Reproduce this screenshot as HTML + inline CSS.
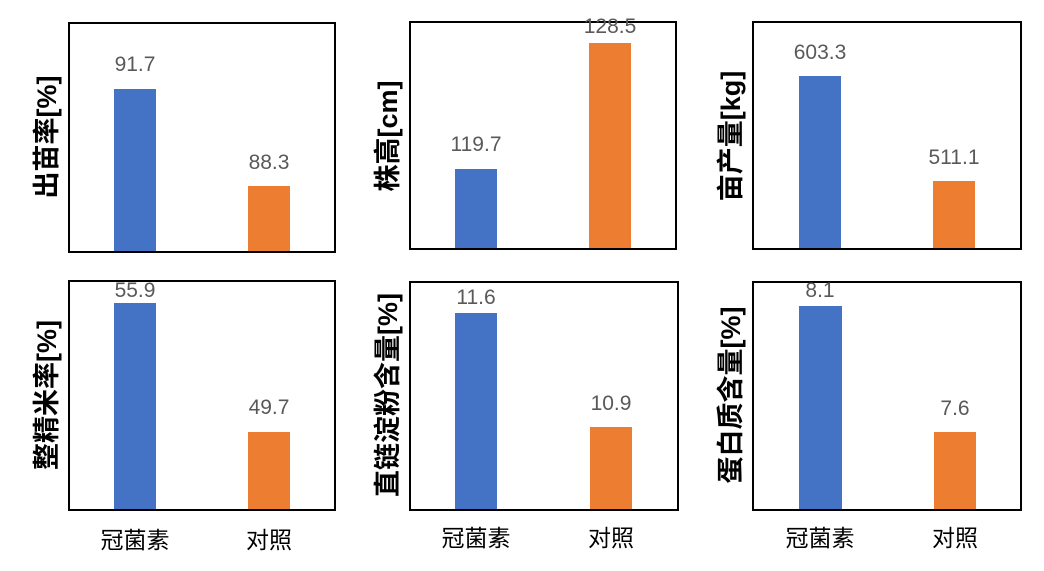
<!DOCTYPE html>
<html><head><meta charset="utf-8"><style>
body{margin:0;background:#fff}
svg{display:block}
.v{font-family:"Liberation Sans","Noto Sans CJK SC",sans-serif;font-size:21px;fill:#595959;text-anchor:middle}
.t{font-family:"Liberation Sans","Noto Sans CJK SC",sans-serif;font-size:27px;font-weight:bold;fill:#000;text-anchor:middle}
.c{font-family:"Liberation Sans","Noto Sans CJK SC",sans-serif;font-size:23px;fill:#000;text-anchor:middle}
rect.b{fill:none;stroke:#000;stroke-width:2}
</style></head><body>
<svg width="1044" height="571" viewBox="0 0 1044 571">
<rect x="114" y="89" width="42" height="163" fill="#4472C4"/>
<rect x="248" y="186" width="42" height="66" fill="#ED7D31"/>
<rect class="b" x="69" y="23" width="266" height="229"/>
<text class="v" x="135" y="71">91.7</text>
<text class="v" x="269" y="169">88.3</text>
<text class="t" transform="translate(56,137) rotate(-90)">出苗率[%]</text>
<rect x="455" y="169" width="42" height="80" fill="#4472C4"/>
<rect x="589" y="43" width="42" height="206" fill="#ED7D31"/>
<rect class="b" x="410" y="22" width="266" height="227"/>
<text class="v" x="476" y="151">119.7</text>
<text class="v" x="610" y="33">128.5</text>
<text class="t" transform="translate(397,136) rotate(-90)">株高[cm]</text>
<rect x="799" y="76" width="42" height="173" fill="#4472C4"/>
<rect x="933" y="181" width="42" height="68" fill="#ED7D31"/>
<rect class="b" x="753" y="22" width="268" height="227"/>
<text class="v" x="820" y="59">603.3</text>
<text class="v" x="954" y="164">511.1</text>
<text class="t" transform="translate(740,136) rotate(-90)">亩产量[kg]</text>
<rect x="114" y="303" width="42" height="207" fill="#4472C4"/>
<rect x="248" y="432" width="42" height="78" fill="#ED7D31"/>
<rect class="b" x="69" y="281" width="266" height="229"/>
<text class="v" x="135" y="297">55.9</text>
<text class="v" x="269" y="414">49.7</text>
<text class="t" transform="translate(56,395) rotate(-90)">整精米率[%]</text>
<rect x="455" y="313" width="42" height="197" fill="#4472C4"/>
<rect x="590" y="427" width="42" height="83" fill="#ED7D31"/>
<rect class="b" x="410" y="282" width="268" height="228"/>
<text class="v" x="476" y="304">11.6</text>
<text class="v" x="611" y="410">10.9</text>
<text class="t" transform="translate(397,395) rotate(-90)">直链淀粉含量[%]</text>
<rect x="799" y="306" width="43" height="204" fill="#4472C4"/>
<rect x="934" y="432" width="42" height="78" fill="#ED7D31"/>
<rect class="b" x="753" y="282" width="268" height="228"/>
<text class="v" x="820" y="297">8.1</text>
<text class="v" x="955" y="415">7.6</text>
<text class="t" transform="translate(740,395) rotate(-90)">蛋白质含量[%]</text>
<text class="c" x="135" y="548">冠菌素</text>
<text class="c" x="269" y="548">对照</text>
<text class="c" x="476" y="546">冠菌素</text>
<text class="c" x="611" y="546">对照</text>
<text class="c" x="820" y="546">冠菌素</text>
<text class="c" x="955" y="546">对照</text>
</svg>
</body></html>
